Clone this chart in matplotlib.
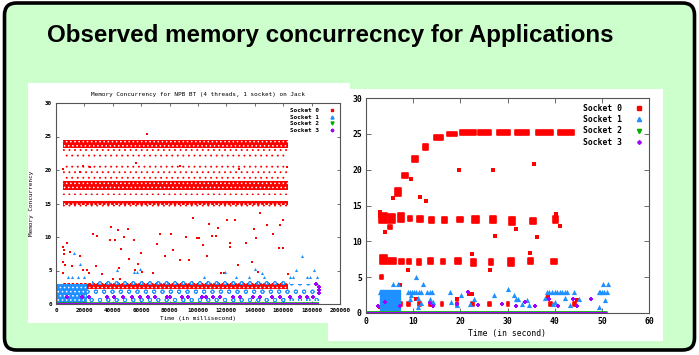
import matplotlib
matplotlib.use("Agg")
import matplotlib.pyplot as plt
from matplotlib.patches import FancyBboxPatch, Rectangle
from matplotlib.lines import Line2D

plt.rcParams["font.family"] = "DejaVu Sans Mono"
plt.rcParams["font.weight"] = "bold"
plt.rcParams["hatch.linewidth"] = 0.6

RED = "#ff0000"
BLUE = "#1e90ff"
GREEN = "#00b000"
PURPLE = "#a000ff"
FRAME = "#555555"

# ---- NPB BT (4 threads, 1 socket) on Jack, time in milliseconds ----
bt_band_x = [5000, 163500]
bt_s0_dense_lo = [23.3, 17.0, 14.85, 2.2]
bt_s0_dense_hi = [24.5, 18.3, 15.3, 3.1]
bt_s0_sparse_lo = [21.7, 18.3, 16.3, 22.5, 14.3, 19.0]
bt_s0_sparse_hi = [22.4, 19.0, 17.0, 23.3, 14.85, 21.0]
bt_s0_x = [5200, 5000, 5300, 5500, 7500, 5000, 6000, 5200, 9900, 11000,
           17000, 17000, 19000, 24000, 26000, 29000, 22000, 23000, 28000, 32600,
           38000, 41500, 39000, 44000, 48000, 50500, 45500, 45300, 44400, 51600,
           55000, 55600, 57500, 59600, 60800, 56300, 63800, 68500, 70900, 73200,
           76800, 80800, 82600, 87300, 87300, 91500, 93400, 96700, 99000, 101000,
           103800, 106000, 108000, 110000, 112700, 114300, 116000, 118500, 120200, 122500,
           122500, 126000, 128400, 129000, 134000, 137800, 139400, 140800, 142000, 143700,
           148400, 153000, 157300, 157700, 160000, 160000, 162400, 163600, 19200, 40400]
bt_s0_y = [20.2, 8.5, 8.0, 7.5, 9.1, 6.2, 5.8, 4.6, 7.8, 5.6,
           7.2, 19.7, 20.6, 20.5, 10.5, 10.2, 5.1, 4.6, 5.6, 4.5,
           9.5, 9.5, 11.5, 11.0, 10.0, 11.2, 8.2, 3.7, 5.3, 6.7,
           9.5, 5.1, 5.9, 7.6, 4.8, 21.0, 25.4, 4.6, 9.0, 10.4,
           7.2, 10.4, 8.1, 6.6, 20.6, 10.0, 6.6, 12.8, 9.8, 9.9,
           8.8, 7.2, 11.9, 10.2, 10.2, 11.3, 4.6, 4.7, 12.5, 9.1,
           8.5, 12.5, 5.8, 20.2, 9.1, 6.3, 11.2, 9.8, 4.8, 13.6,
           11.8, 10.5, 8.3, 11.8, 12.5, 8.3, 20.5, 4.5, 5.1, 3.8]
bt_s1_dense_x = [0, 22000]
bt_s1_dense_y = [0.2, 3.0]
bt_s1_sparse_x0 = [22000, 165000, 25000]
bt_s1_sparse_x1 = [165000, 185000, 165000]
bt_s1_sparse_lo = [0.3, 0.5, 2.9]
bt_s1_sparse_hi = [2.2, 3.0, 3.5]
bt_s1_x = [8700, 11000, 15700, 12700, 17000, 43000, 57000, 59500, 104000, 119000,
           127000, 136000, 140000, 145000, 146500, 165000, 167000, 169000, 173000, 176500,
           179000, 182000, 184000, 20000, 55000]
bt_s1_y = [4.1, 4.1, 4.0, 7.6, 6.0, 5.1, 4.8, 5.2, 4.1, 4.8,
           4.0, 4.0, 5.2, 4.6, 4.0, 4.0, 4.0, 5.1, 7.1, 4.0,
           4.0, 5.1, 4.0, 4.0, 4.8]
bt_s3_x = [7500, 18000, 23000, 36000, 40800, 47400, 53300, 59200, 65000, 69700,
           78000, 80300, 88500, 93200, 102600, 105600, 110800, 115500, 124900, 129600,
           139000, 143700, 151900, 157700, 164800, 171800, 176500, 181200, 185000, 185000,
           185000, 183000]
bt_s3_y = [1.0, 1.0, 1.0, 1.0, 1.0, 1.0, 1.0, 1.0, 1.0, 1.0,
           1.0, 1.0, 1.0, 1.0, 1.0, 1.0, 1.0, 1.0, 1.0, 1.0,
           1.0, 1.0, 1.0, 1.0, 1.0, 1.0, 1.0, 1.0, 2.6, 2.1,
           1.6, 3.0]
bt_zero_x = [0, 185500]

# ---- second application, time in seconds ----
app_s0_blob_x0 = [6.1, 7.7, 9.8, 12.0, 14.5, 17.2, 19.9, 23.8, 27.7, 31.5, 36.1, 40.7,
                  2.8, 4.6, 4.7, 6.8, 8.8, 10.9, 13.3, 16.2, 19.3, 22.5, 26.2, 30.4, 34.8, 39.6,
                  3.0, 4.7, 7.1, 8.7, 10.8, 13.1, 15.9, 18.9, 22.3, 26.0, 30.1, 34.3, 39.2,
                  3.0, 7.0, 8.7, 11.0, 13.3, 15.8, 19.0, 22.2, 25.9, 29.8, 38.9, 43.9]
app_s0_blob_x1 = [7.5, 8.9, 11.1, 13.2, 16.3, 19.3, 23.4, 26.6, 30.6, 34.6, 39.7, 44.2,
                  4.4, 6.1, 5.6, 8.0, 9.7, 12.0, 14.4, 17.2, 20.5, 23.9, 27.6, 31.6, 36.1, 40.8,
                  4.45, 6.4, 8.0, 9.6, 11.7, 14.1, 16.8, 20.1, 23.3, 27.0, 31.3, 35.5, 40.4,
                  3.7, 7.6, 9.3, 11.6, 13.9, 16.4, 19.6, 22.8, 26.5, 30.4, 39.5, 44.5]
app_s0_blob_lo = [16.3, 18.9, 21.1, 22.8, 24.1, 24.7, 24.8, 24.8, 24.8, 24.8, 24.8, 24.8,
                  12.6, 12.5, 11.7, 12.7, 12.9, 12.7, 12.6, 12.6, 12.7, 12.5, 12.5, 12.3, 12.4, 12.6,
                  6.8, 6.8, 6.9, 6.8, 6.7, 6.8, 6.8, 6.9, 6.6, 6.7, 6.5, 6.8, 6.8,
                  4.75, 1.0, 1.0, 1.0, 1.0, 1.0, 1.0, 1.0, 1.0, 1.0, 1.0, 1.0]
app_s0_blob_hi = [17.5, 19.6, 21.9, 23.6, 24.8, 25.3, 25.6, 25.6, 25.6, 25.6, 25.6, 25.5,
                  13.9, 13.8, 12.3, 14.0, 13.5, 13.5, 13.4, 13.4, 13.4, 13.5, 13.6, 13.4, 13.2, 13.5,
                  8.1, 7.7, 7.6, 7.6, 7.6, 7.7, 7.6, 7.7, 7.6, 7.6, 7.7, 7.7, 7.6,
                  5.25, 1.5, 1.5, 1.5, 1.5, 1.5, 1.5, 1.5, 1.5, 1.5, 1.6, 1.6]
app_s0_x = [2.9, 2.9, 3.96, 5.8, 9.5, 11.5, 12.8, 19.8, 27.0, 35.7,
            27.4, 31.7, 36.3, 41.2, 40.2, 22.5, 34.7, 9.0, 26.2, 7.3,
            22.5, 3.0, 21.8, 38.5, 44.8, 19.2, 10.7]
app_s0_y = [14.1, 13.5, 11.3, 16.0, 18.7, 16.2, 15.6, 20.0, 20.0, 20.8,
            10.7, 11.7, 10.65, 12.2, 13.8, 8.3, 8.4, 6.0, 5.95, 3.9,
            2.65, 0.8, 2.6, 2.3, 1.8, 2.0, 2.0]
app_s1_cloud = [3.0, 7.3, 0.4, 3.2]
app_s1_x = [3.0, 3.4, 3.8, 4.2, 4.5, 8.8, 9.3, 9.75, 10.2, 10.7, 11.2, 11.7, 12.9, 13.5, 14.0,
            17.9, 38.4, 38.9, 39.4, 40.0, 40.5, 41.1, 41.6, 42.1, 42.6, 44.2, 49.3, 49.7, 50.0,
            50.5, 51.1,
            5.65, 6.8, 12.0, 50.2, 51.3, 10.7, 30.0, 9.6, 31.3, 20.1,
            9.4, 11.0, 11.7, 13.6, 14.1, 18.1, 19.2, 23.0, 27.1, 31.7,
            32.2, 34.1, 34.6, 38.0, 39.6, 40.1, 42.1, 43.3, 45.1, 49.5,
            50.7, 11.0, 22.0, 33.0]
app_s1_y = [3.0, 3.0, 3.0, 3.0, 3.0, 3.0, 3.0, 3.0, 3.0, 3.0, 3.0, 3.0, 3.0, 3.0, 3.0,
            3.0, 3.0, 3.0, 3.0, 3.0, 3.0, 3.0, 3.0, 3.0, 3.0, 3.0, 3.0, 3.0, 3.0,
            3.0, 3.0,
            4.0, 4.0, 4.0, 4.0, 4.0, 5.0, 3.4, 2.5, 2.5, 2.5,
            2.0, 2.1, 1.35, 2.0, 1.5, 1.6, 1.1, 2.0, 2.5, 2.0,
            1.95, 1.8, 1.1, 2.1, 1.2, 1.5, 2.1, 1.1, 2.0, 0.85,
            1.8, 0.9, 1.3, 1.2]
app_s3_x = [21.6, 23.7, 28.8, 31.7, 33.8, 35.8, 38.7, 40.8, 43.8, 44.7,
            47.8, 19.3, 13.6, 14.3, 7.3, 4.0, 2.6]
app_s3_y = [3.0, 1.1, 1.2, 1.0, 1.6, 1.0, 2.0, 1.0, 2.0, 1.0,
            2.0, 1.2, 1.4, 1.0, 1.0, 1.6, 1.0]
app_zero_x = [0, 51]

sockets = ["Socket 0", "Socket 1", "Socket 2", "Socket 3"]
bt_xticks = [0, 20000, 40000, 60000, 80000, 100000, 120000, 140000, 160000, 180000, 200000]
app_xticks = [0, 10, 20, 30, 40, 50, 60]
yticks = [0, 5, 10, 15, 20, 25, 30]

W, H = 699, 355
fig = plt.figure(figsize=(W / 100, H / 100), dpi=100)
fig.patch.set_facecolor("white")

# slide background
fig.add_artist(FancyBboxPatch((0.045, 0.05), 6.90, 3.47,
                              boxstyle="round,pad=0,rounding_size=0.12",
                              transform=fig.dpi_scale_trans, fc="#ccffcc",
                              ec="black", lw=2.6, zorder=-5))
fig.text(47 / W, 1 - 42 / H, "Observed memory concurrecncy for Applications",
         family="Liberation Sans", weight="bold", fontsize=17.4, va="baseline")


def px_rect(x0, y0, x1, y1):
    return (x0 / W, 1 - y1 / H, (x1 - x0) / W, (y1 - y0) / H)


def frame(ax, size, length):
    for s in ax.spines.values():
        s.set_color(FRAME)
        s.set_linewidth(0.8)
    ax.tick_params(direction="in", top=True, right=True, length=length,
                   width=0.6, color=FRAME, labelsize=size, pad=3)
    ax.set_facecolor("white")


def markers(size):
    return [Line2D([], [], ls="", marker="s", color=RED, ms=size * 0.8),
            Line2D([], [], ls="", marker="^", color=BLUE, ms=size),
            Line2D([], [], ls="", marker="v", color=GREEN, ms=size),
            Line2D([], [], ls="", marker="P", color=PURPLE, ms=size * 0.8)]


def band(ax, a, b, lo, hi, color, dense, pattern="..."):
    # steady-state clouds: dense ones filled with a light speckle, sparse ones dotted
    if dense:
        ax.bar(a, hi - lo, width=b - a, bottom=lo, align="edge", fc=color,
               ec="white", hatch="....", lw=0)
    else:
        ax.bar(a, hi - lo, width=b - a, bottom=lo, align="edge", fc="none",
               ec=color, hatch=pattern, lw=0)


def panel(x0, y0, x1, y1, z):
    r = px_rect(x0, y0, x1, y1)
    fig.add_artist(Rectangle(r[:2], r[2], r[3], transform=fig.transFigure,
                             fc="white", ec="none", zorder=z))


# the second image sits behind the first
panel(328, 89, 663, 341, -4)
panel(28, 83, 350, 323, -3)

# ---- left chart ----
ax1 = fig.add_axes(px_rect(56, 103, 340, 304))
frame(ax1, 4.2, 2.5)
x0, x1 = bt_band_x
for lo, hi in zip(bt_s0_sparse_lo, bt_s0_sparse_hi):
    band(ax1, x0, x1, lo, hi, RED, False)
for lo, hi in zip(bt_s0_dense_lo, bt_s0_dense_hi):
    band(ax1, x0, x1, lo, hi, RED, True)
ax1.scatter(bt_s0_x, bt_s0_y, s=3, marker="s", color=RED, lw=0)
for a, b, lo, hi in zip(bt_s1_sparse_x0, bt_s1_sparse_x1, bt_s1_sparse_lo, bt_s1_sparse_hi):
    band(ax1, a, b, lo, hi, BLUE, False, "oo")
band(ax1, bt_s1_dense_x[0], bt_s1_dense_x[1], bt_s1_dense_y[0], bt_s1_dense_y[1], BLUE, True)
ax1.scatter(bt_s1_x, bt_s1_y, s=5, marker="^", color=BLUE, lw=0)
ax1.scatter(bt_s3_x, bt_s3_y, s=5, marker="P", color=PURPLE, lw=0)
ax1.plot(bt_zero_x, [0, 0], color=GREEN, lw=2.6, solid_capstyle="butt")
ax1.plot(bt_zero_x, [0, 0], color=PURPLE, lw=1.6, solid_capstyle="butt")
ax1.set_xlim(0, 200000)
ax1.set_ylim(0, 30)
ax1.set_xticks(bt_xticks, [str(t) for t in bt_xticks])
ax1.set_yticks(yticks, [str(t) for t in yticks])
ax1.set_title("Memory Concurrency for NPB BT (4 threads, 1 socket) on Jack",
              fontsize=4.3, pad=5)
ax1.set_xlabel("Time (in millisecond)", fontsize=4.3, labelpad=2)
ax1.set_ylabel("Memory Concurrency", fontsize=4.3, labelpad=8)
ax1.legend(markers(2.2), sockets, loc="upper right", markerfirst=False,
           frameon=False, fontsize=4.3, handlelength=1.0, handletextpad=1.8,
           labelspacing=0.25, borderaxespad=0.4)

# ---- right chart ----
ax2 = fig.add_axes(px_rect(366, 98, 649, 313))
frame(ax2, 5.8, 3.5)
for a, b, lo, hi in zip(app_s0_blob_x0, app_s0_blob_x1, app_s0_blob_lo, app_s0_blob_hi):
    ax2.bar(a, hi - lo, width=b - a, bottom=lo, align="edge", fc=RED,
            ec=RED, lw=1.2, joinstyle="round")
ax2.scatter(app_s0_x, app_s0_y, s=10, marker="s", color=RED, lw=0)
c = app_s1_cloud
ax2.bar(c[0], c[3] - c[2], width=c[1] - c[0], bottom=c[2], align="edge",
        fc=BLUE, ec=BLUE, lw=1.0, joinstyle="round")
ax2.scatter(app_s1_x, app_s1_y, s=14, marker="^", color=BLUE, lw=0)
ax2.scatter(app_s3_x, app_s3_y, s=9, marker="P", color=PURPLE, lw=0)
ax2.plot(app_zero_x, [0, 0], color=GREEN, lw=3.4, solid_capstyle="butt")
ax2.plot(app_zero_x, [0, 0], color=PURPLE, lw=2.2, solid_capstyle="butt")
ax2.set_xlim(0, 60)
ax2.set_ylim(0, 30)
ax2.set_xticks(app_xticks, [str(t) for t in app_xticks])
ax2.set_yticks(yticks, [str(t) for t in yticks])
ax2.set_xlabel("Time (in second)", fontsize=5.8, labelpad=2)
ax2.legend(markers(3.0), sockets, loc="upper right", markerfirst=False,
           frameon=False, fontsize=5.8, handlelength=1.0, handletextpad=1.6,
           labelspacing=0.3, borderaxespad=0.3)

fig.savefig("out.png", dpi=100)
